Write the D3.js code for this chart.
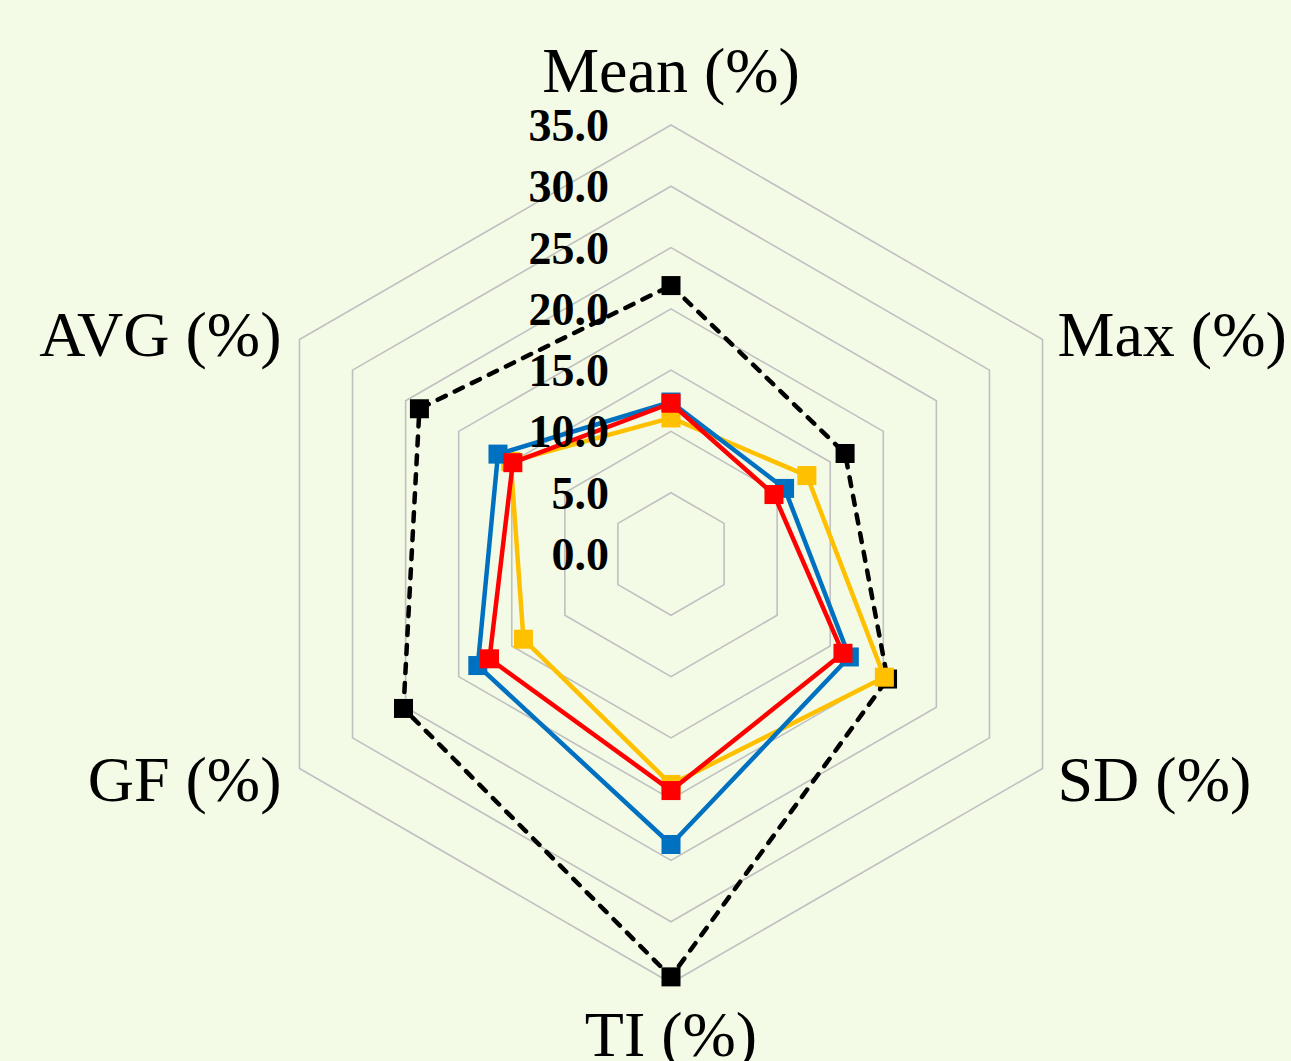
<!DOCTYPE html>
<html>
<head>
<meta charset="utf-8">
<script src="https://cdn.jsdelivr.net/npm/d3@7"></script>
<style>
html,body{margin:0;padding:0;background:#F3FBE6;}
svg{display:block;}
</style>
</head>
<body>
<svg id="chart" width="1291" height="1061"></svg>
<script>
const categories = ["Mean (%)", "Max (%)", "SD (%)", "TI (%)", "GF (%)", "AVG (%)"];
const tickValues = [0, 5, 10, 15, 20, 25, 30, 35];
const tickLabels = ["0.0", "5.0", "10.0", "15.0", "20.0", "25.0", "30.0", "35.0"];
const seriesBlack  = [21.9, 16.4, 20.4, 34.5, 25.2, 23.7];
const seriesYellow = [11.1, 12.8, 20.1, 18.8, 13.9, 15.1];
const seriesBlue   = [12.4, 10.7, 16.8, 23.7, 18.2, 16.3];
const seriesRed    = [12.3, 9.7, 16.2, 19.3, 17.1, 14.9];

const series = [
  {name: "S4", values: seriesBlack,  color: "#000000", dash: "9,10"},
  {name: "S3", values: seriesYellow, color: "#FFC000", dash: null},
  {name: "S1", values: seriesBlue,   color: "#0070C0", dash: null},
  {name: "S2", values: seriesRed,    color: "#FF0000", dash: null}
];

const svg = d3.select("#chart");
svg.append("rect").attr("width", 1291).attr("height", 1061).attr("fill", "#F3FBE6");

const cx = 671, cy = 554, R = 429;
const r = d3.scaleLinear().domain([0, 35]).range([0, R]);
const angle = d3.scaleLinear().domain([0, categories.length]).range([-Math.PI / 2, 1.5 * Math.PI]);

const g = svg.append("g").attr("transform", `translate(${cx},${cy})`);

function pt(i, v) {
  const a = angle(i);
  return [r(v) * Math.cos(a), r(v) * Math.sin(a)];
}

const line = d3.line().curve(d3.curveLinearClosed);

// grid rings
g.selectAll("path.ring").data(tickValues.slice(1)).join("path")
  .attr("class", "ring")
  .attr("d", v => line(categories.map((c, i) => pt(i, v))))
  .attr("fill", "none")
  .attr("stroke", "#C0C0C0")
  .attr("stroke-width", 1.6);

// series
series.forEach(s => {
  const pts = s.values.map((v, i) => pt(i, v));
  g.append("path")
    .attr("d", line(pts))
    .attr("fill", "none")
    .attr("stroke", s.color)
    .attr("stroke-width", 4.5)
    .attr("stroke-linejoin", "round")
    .attr("stroke-linecap", s.dash ? "round" : "butt")
    .attr("stroke-dasharray", s.dash);
  g.selectAll(null).data(pts).join("rect")
    .attr("x", d => d[0] - 9.5)
    .attr("y", d => d[1] - 9.5)
    .attr("width", 19)
    .attr("height", 19)
    .attr("fill", s.color);
});

// tick labels
g.selectAll("text.tick").data(tickValues).join("text")
  .attr("class", "tick")
  .attr("x", -62)
  .attr("y", v => -r(v) + 16)
  .attr("text-anchor", "end")
  .attr("font-family", "Liberation Serif, Times New Roman, serif")
  .attr("font-weight", "bold")
  .attr("font-size", 46)
  .attr("fill", "#000")
  .text((v, i) => tickLabels[i]);

// category labels
const labelOffsets = [
  {dx: 0, dy: -33, anchor: "middle"},
  {dx: 15, dy: 16, anchor: "start"},
  {dx: 15, dy: 32, anchor: "start"},
  {dx: 0, dy: 73, anchor: "middle"},
  {dx: -18, dy: 32, anchor: "end"},
  {dx: -18, dy: 16, anchor: "end"}
];
g.selectAll("text.cat").data(categories).join("text")
  .attr("class", "cat")
  .attr("x", (c, i) => pt(i, 35)[0] + labelOffsets[i].dx)
  .attr("y", (c, i) => pt(i, 35)[1] + labelOffsets[i].dy)
  .attr("text-anchor", (c, i) => labelOffsets[i].anchor)
  .attr("font-family", "Liberation Serif, Times New Roman, serif")
  .attr("font-size", 64)
  .attr("fill", "#000")
  .text(c => c);
</script>
</body>
</html>
